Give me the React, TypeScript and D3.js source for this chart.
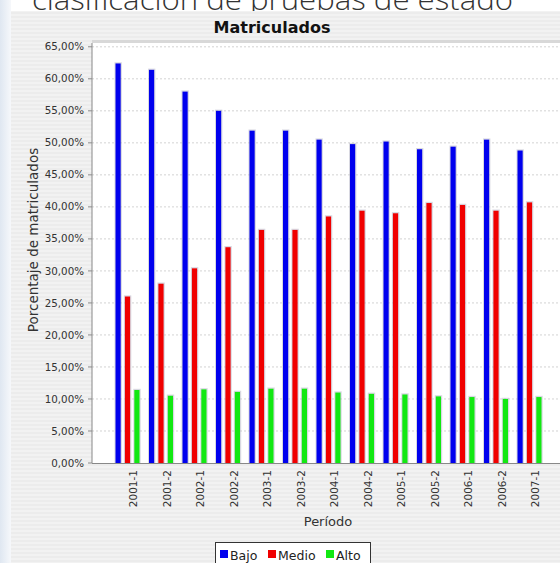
import { useMemo } from "react";
import * as d3 from "d3";

const WIDTH = 560;
const HEIGHT = 563;
const PANEL = { x: 11, y: 11 };
const PLOT = { left: 92, top: 43, right: 562, bottom: 463 };

const periods = [
  "2001-1", "2001-2", "2002-1", "2002-2", "2003-1", "2003-2", "2004-1",
  "2004-2", "2005-1", "2005-2", "2006-1", "2006-2", "2007-1",
];
const bajo = [62.4, 61.4, 58.0, 55.0, 51.9, 51.9, 50.5, 49.8, 50.2, 49.0, 49.4, 50.5, 48.8];
const medio = [26.0, 28.0, 30.4, 33.7, 36.4, 36.4, 38.5, 39.4, 39.0, 40.6, 40.3, 39.4, 40.7];
const alto = [11.4, 10.5, 11.5, 11.1, 11.6, 11.6, 11.0, 10.8, 10.7, 10.4, 10.3, 10.0, 10.3];
const seriesNames = ["Bajo", "Medio", "Alto"];
const seriesColors = ["#0000ee", "#f00000", "#12e812"];
const yTicks = [0, 5, 10, 15, 20, 25, 30, 35, 40, 45, 50, 55, 60, 65];

const FONT = "'DejaVu Sans', 'Lucida Grande', sans-serif";

const fmt = (v: number) => v.toFixed(2).replace(".", ",") + "%";

export default function App() {
  const seriesValues = [bajo, medio, alto];

  const xScale = useMemo(
    () => d3.scaleBand<string>().domain(periods).range([111.25, 546.75]),
    []
  );
  const xSeries = useMemo(
    () => d3.scaleBand<string>().domain(seriesNames).range([-12.5, 11.5]).paddingInner(0.45),
    []
  );
  const yScale = useMemo(
    () => d3.scaleLinear().domain([0, 65]).range([PLOT.bottom, 46.8]),
    []
  );

  const bars = periods.flatMap((p, i) =>
    seriesNames.map((s, j) => {
      const v = seriesValues[j][i];
      const x = (xScale(p) ?? 0) + xScale.bandwidth() / 2 + (xSeries(s) ?? 0);
      const y = yScale(v);
      const h = PLOT.bottom - y;
      const w = xSeries.bandwidth();
      return (
        <g key={`${p}-${s}`}>
          <rect x={x - 1} y={y - 1.2} width={w + 2.2} height={h + 1.2} fill="#b8b8c8" opacity={0.55} />
          <rect x={x} y={y} width={w} height={h} fill={seriesColors[j]} />
        </g>
      );
    })
  );

  return (
    <svg width={WIDTH} height={HEIGHT} style={{ display: "block", position: "absolute", left: 0, top: 0 }}>
      <defs>
        <pattern id="stripes" width="4" height="4" patternUnits="userSpaceOnUse">
          <rect width="4" height="2" fill="#ececec" />
          <rect y="2" width="4" height="2" fill="#f2f2f2" />
        </pattern>
        <linearGradient id="slide" x1="0" x2="1" y1="0" y2="0">
          <stop offset="0" stopColor="#dfe7f1" />
          <stop offset="1" stopColor="#f6f8fb" />
        </linearGradient>
      </defs>
      <rect width={WIDTH} height={HEIGHT} fill="#ffffff" />
      <rect x={0} y={0} width={PANEL.x} height={HEIGHT} fill="url(#slide)" />

      {/* slide heading, cut at the top */}
      <text
        x={32}
        y={10}
        textLength={481}
        lengthAdjust="spacingAndGlyphs"
        fontFamily="'DejaVu Sans ExtraLight', 'Open Sans', sans-serif"
        fontWeight={300}
        fontSize={30}
        fill="#333"
      >
        clasificación de pruebas de estado
      </text>

      {/* chart panel */}
      <rect x={PANEL.x} y={PANEL.y} width={WIDTH - PANEL.x} height={HEIGHT - PANEL.y} fill="url(#stripes)" />

      <text x={272} y={33} textAnchor="middle" fontFamily={FONT} fontWeight="bold" fontSize={16} fill="#111">
        Matriculados
      </text>

      {/* plot area */}
      <rect x={PLOT.left} y={PLOT.top - 3} width={PLOT.right - PLOT.left} height={3} fill="#d8d8d8" />
      <rect x={PLOT.left} y={PLOT.top} width={PLOT.right - PLOT.left} height={PLOT.bottom - PLOT.top} fill="#ffffff" />

      {yTicks.map((t) => (
        <g key={t}>
          {t > 0 && (
            <line
              x1={PLOT.left}
              x2={PLOT.right}
              y1={yScale(t)}
              y2={yScale(t)}
              stroke="#c8c8c8"
              strokeWidth={0.8}
              strokeDasharray="2,2"
            />
          )}
          <line x1={PLOT.left - 4} x2={PLOT.left} y1={yScale(t)} y2={yScale(t)} stroke="#888" />
          <text
            x={PLOT.left - 8}
            y={yScale(t)}
            dy="0.35em"
            textAnchor="end"
            fontFamily={FONT}
            fontSize={10.3}
            fill="#333"
          >
            {fmt(t)}
          </text>
        </g>
      ))}

      {bars}

      <line x1={PLOT.left} x2={PLOT.left} y1={PLOT.top} y2={PLOT.bottom} stroke="#888" />
      <line x1={PLOT.left} x2={PLOT.right} y1={PLOT.bottom + 0.5} y2={PLOT.bottom + 0.5} stroke="#888" />

      {periods.map((p) => {
        const cx = (xScale(p) ?? 0) + xScale.bandwidth() / 2 + 5.5;
        return (
          <text
            key={p}
            transform={`translate(${cx}, 470) rotate(-90)`}
            dy="0.35em"
            textAnchor="end"
            fontFamily={FONT}
            fontSize={10.5}
            fill="#333"
          >
            {p}
          </text>
        );
      })}

      <text x={328} y={526} textAnchor="middle" fontFamily={FONT} fontSize={13} fill="#333">
        Período
      </text>

      <text
        transform="translate(38, 240) rotate(-90)"
        textAnchor="middle"
        fontFamily={FONT}
        fontSize={13.5}
        fill="#333"
      >
        Porcentaje de matriculados
      </text>

      {/* legend */}
      <rect x={215.5} y={542.5} width={155} height={30} fill="#ffffff" stroke="#333" />
      {seriesNames.map((s, j) => {
        const xs = [220, 268, 326][j];
        return (
          <g key={s}>
            <rect x={xs} y={550} width={8} height={8} fill={seriesColors[j]} />
            <text x={xs + 10} y={559.5} fontFamily={FONT} fontSize={12.5} fill="#222">
              {s}
            </text>
          </g>
        );
      })}
    </svg>
  );
}
